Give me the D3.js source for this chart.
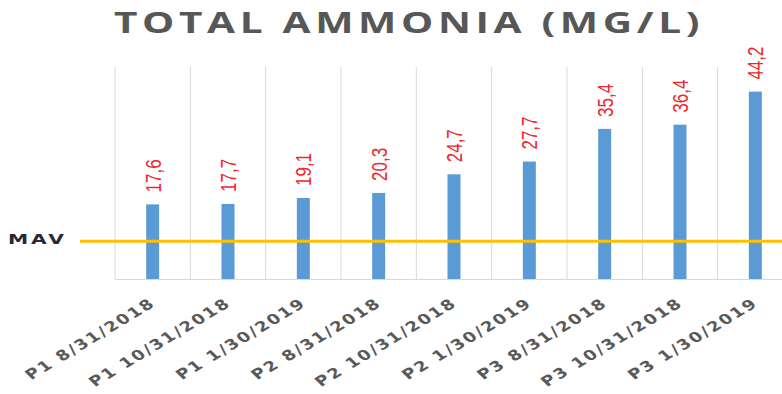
<!DOCTYPE html>
<html>
<head>
<meta charset="utf-8">
<script src="https://cdn.jsdelivr.net/npm/d3@7"></script>
<style>
  html, body { margin: 0; padding: 0; background: #fff; }
  svg { display: block; }
</style>
</head>
<body>
<svg id="chart" width="782" height="394"></svg>
<script>
// Sampling events (site + date) and measured total ammonia, mg/L
const categories = [
  "P1 8/31/2018", "P1 10/31/2018", "P1 1/30/2019",
  "P2 8/31/2018", "P2 10/31/2018", "P2 1/30/2019",
  "P3 8/31/2018", "P3 10/31/2018", "P3 1/30/2019"
];
const values = [17.6, 17.7, 19.1, 20.3, 24.7, 27.7, 35.4, 36.4, 44.2];
// Maximum allowable value reference line
const mavValue = 8.9;
const mavLabel = "MAV";
const yDomain = [0, 50];
const title = "TOTAL AMMONIA (MG/L)";

const svg = d3.select("#chart");
const plot = { left: 115, right: 793, top: 67, bottom: 279 };
// Text is drawn slightly widened horizontally
const sx = 1.3;

const x = d3.scaleBand().domain(categories).range([plot.left, plot.right]).paddingInner(0).paddingOuter(0);
const y = d3.scaleLinear().domain(yDomain).range([plot.bottom, plot.top]);

const fmt = v => d3.format(".1f")(v).replace(".", ",");

// Title
svg.append("text")
  .attr("transform", `translate(409,33) scale(1.45,1)`)
  .attr("text-anchor", "middle")
  .attr("font-family", "'Open Sans', sans-serif")
  .attr("font-weight", "bold")
  .attr("font-size", 28)
  .attr("letter-spacing", 3.2)
  .attr("fill", "#575757")
  .text(title);

// Vertical category gridlines
const edges = categories.map(c => x(c)).concat([plot.right]);
svg.append("g").selectAll("line").data(edges).join("line")
  .attr("x1", d => d).attr("x2", d => d)
  .attr("y1", plot.top).attr("y2", plot.bottom)
  .attr("stroke", "#d9d9d9").attr("stroke-width", 1);

// Baseline
svg.append("line")
  .attr("x1", plot.left).attr("x2", plot.right)
  .attr("y1", y(0) + 0.5).attr("y2", y(0) + 0.5)
  .attr("stroke", "#d9d9d9").attr("stroke-width", 1);

// Bars
const barW = 13;
svg.append("g").selectAll("rect").data(values).join("rect")
  .attr("x", (d, i) => x(categories[i]) + x.bandwidth() / 2 - barW / 2)
  .attr("y", d => y(d))
  .attr("width", barW)
  .attr("height", d => y(0) - y(d))
  .attr("fill", "#5b9bd5");

// Value labels, rotated
svg.append("g").selectAll("text").data(values).join("text")
  .attr("transform", (d, i) => `translate(${x(categories[i]) + x.bandwidth() / 2 + 8},${y(d) - 12}) scale(${sx},1) rotate(-90)`)
  .attr("font-family", "'Liberation Sans', sans-serif")
  .attr("font-size", 17)
  .attr("fill", "#f0282d")
  .text(d => fmt(d));

// MAV line and label
svg.append("line")
  .attr("x1", 80).attr("x2", 782)
  .attr("y1", y(mavValue)).attr("y2", y(mavValue))
  .attr("stroke", "#ffc000").attr("stroke-width", 3);
svg.append("text")
  .attr("transform", `translate(8,${y(mavValue) + 3}) scale(1.45,1)`)
  .attr("font-family", "'DejaVu Sans', sans-serif")
  .attr("font-weight", "bold")
  .attr("font-size", 14)
  .attr("letter-spacing", 2)
  .attr("fill", "#2a2838")
  .text(mavLabel);

// Category axis labels, slanted
svg.append("g").selectAll("text").data(categories).join("text")
  .attr("transform", c => `translate(${x(c) + x.bandwidth() / 2 + 4},${plot.bottom + 26}) scale(${sx},1) rotate(-38)`)
  .attr("text-anchor", "end")
  .attr("font-family", "'DejaVu Sans', sans-serif")
  .attr("font-weight", "bold")
  .attr("font-size", 14)
  .attr("letter-spacing", 1.6)
  .attr("fill", "#595959")
  .text(c => c);
</script>
</body>
</html>
